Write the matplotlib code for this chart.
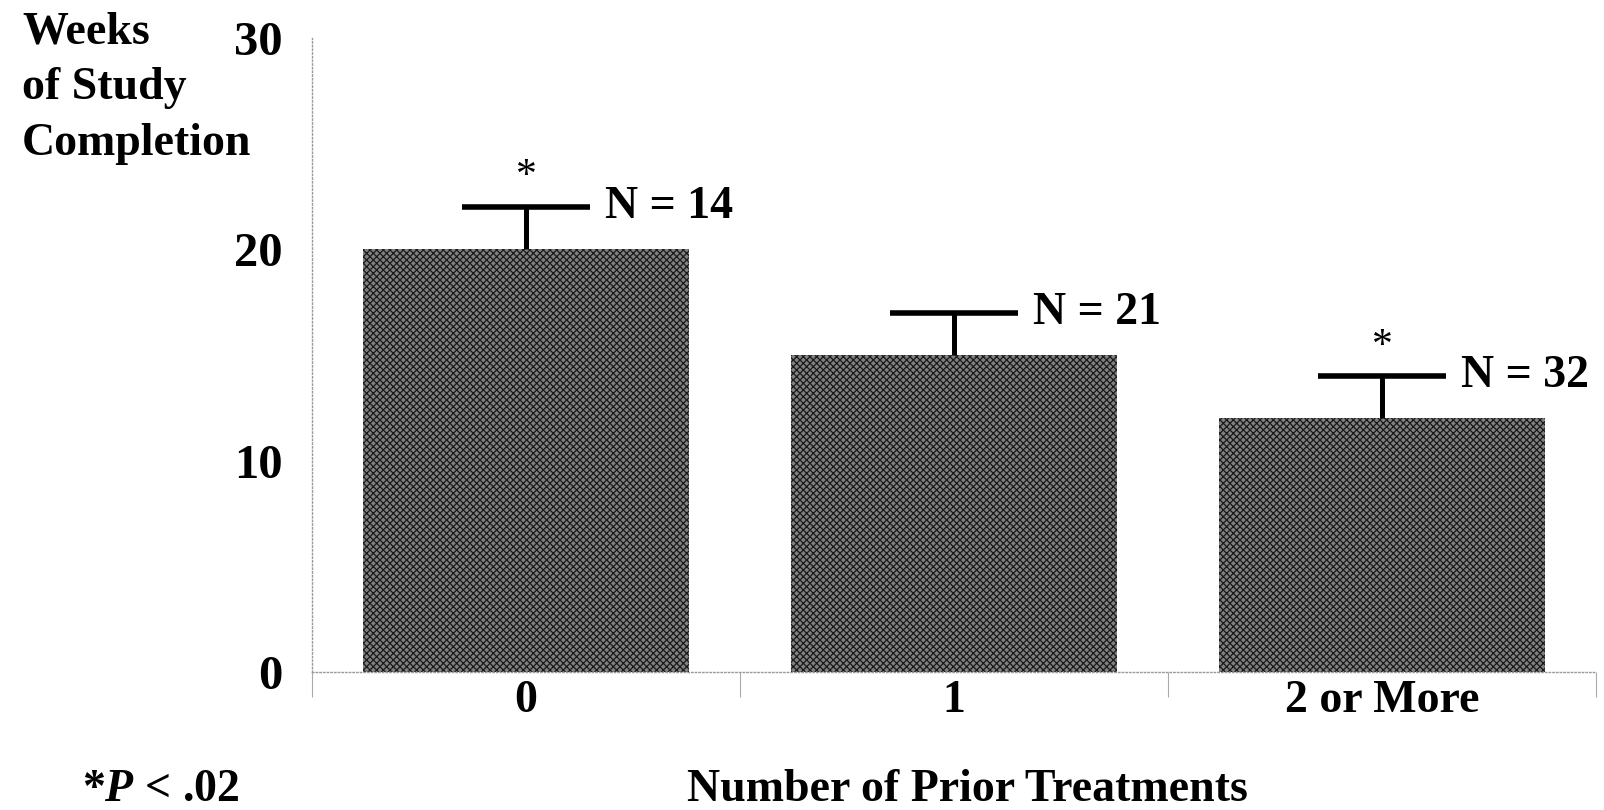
import matplotlib.pyplot as plt
import matplotlib as mpl

# data
categories = ['0', '1', '2 or More']
weeks = [20, 15, 12]
upper_err = [2, 2, 2]
n_labels = ['N = 14', 'N = 21', 'N = 32']
significant = [True, False, True]
ylabel_lines = ['Weeks', 'of Study', 'Completion']

mpl.rcParams['font.family'] = 'Liberation Serif'
mpl.rcParams['font.weight'] = 'bold'
mpl.rcParams['mathtext.fontset'] = 'custom'
mpl.rcParams['mathtext.rm'] = 'Liberation Serif:bold'
mpl.rcParams['mathtext.it'] = 'Liberation Serif:italic:bold'
mpl.rcParams['hatch.color'] = '#1a1a1a'
mpl.rcParams['hatch.linewidth'] = 0.9

fs = 33
fig = plt.figure(figsize=(16.04, 8.10), dpi=100)
ax = fig.add_axes([0.1945, 0.1704, 0.8005, 0.7827])

x = [i + 0.5 for i in range(len(categories))]
ax.bar(x, weeks, width=0.76, color='#808080', hatch='xxxxx',
       edgecolor='#1a1a1a', linewidth=0)

# error bars: upper whisker and cap only
half = 0.149
for xi, w, e, lab, sig in zip(x, weeks, upper_err, n_labels, significant):
    top = w + e
    ax.vlines(xi, w, top, color='black', linewidth=3.6)
    ax.hlines(top, xi - half, xi + half, color='black', linewidth=4)
    ax.text(xi + half + 0.035, top, lab, fontsize=fs, va='center', ha='left')
    if sig:
        ax.text(xi, top + 0.5, '*', fontsize=30, fontweight='normal',
                ha='center', va='bottom')

ax.set_xlim(0, 3)
ax.set_ylim(0, 30)
ax.set_yticks([0, 10, 20, 30])
ax.set_yticklabels(['0', '10', '20', '30'], fontsize=35)
ax.set_xticks(x)
ax.set_xticklabels(categories, fontsize=fs)
ax.tick_params(axis='x', length=0, pad=6)
ax.tick_params(axis='y', length=0, pad=21)
ax.set_xticks([0, 1, 2, 3], minor=True)
ax.tick_params(axis='x', which='minor', length=18, width=0.8, color='#aaaaaa')

for side in ['top', 'right']:
    ax.spines[side].set_visible(False)
for side in ['left', 'bottom']:
    ax.spines[side].set_linestyle(':')
    ax.spines[side].set_color('#999999')
    ax.spines[side].set_linewidth(1)

for k, line in enumerate(ylabel_lines):
    fig.text(22 / 1604, 1 - (32 + 56 * k) / 810, line, fontsize=fs,
             ha='left', va='center')
fig.text(967 / 1604, 1 - 790 / 810, 'Number of Prior Treatments', fontsize=fs,
         ha='center', va='center')
fig.text(82 / 1604, 1 - 790 / 810, r'*$P$ < .02', fontsize=fs,
         ha='left', va='center')

fig.savefig('out.png', dpi=100)
